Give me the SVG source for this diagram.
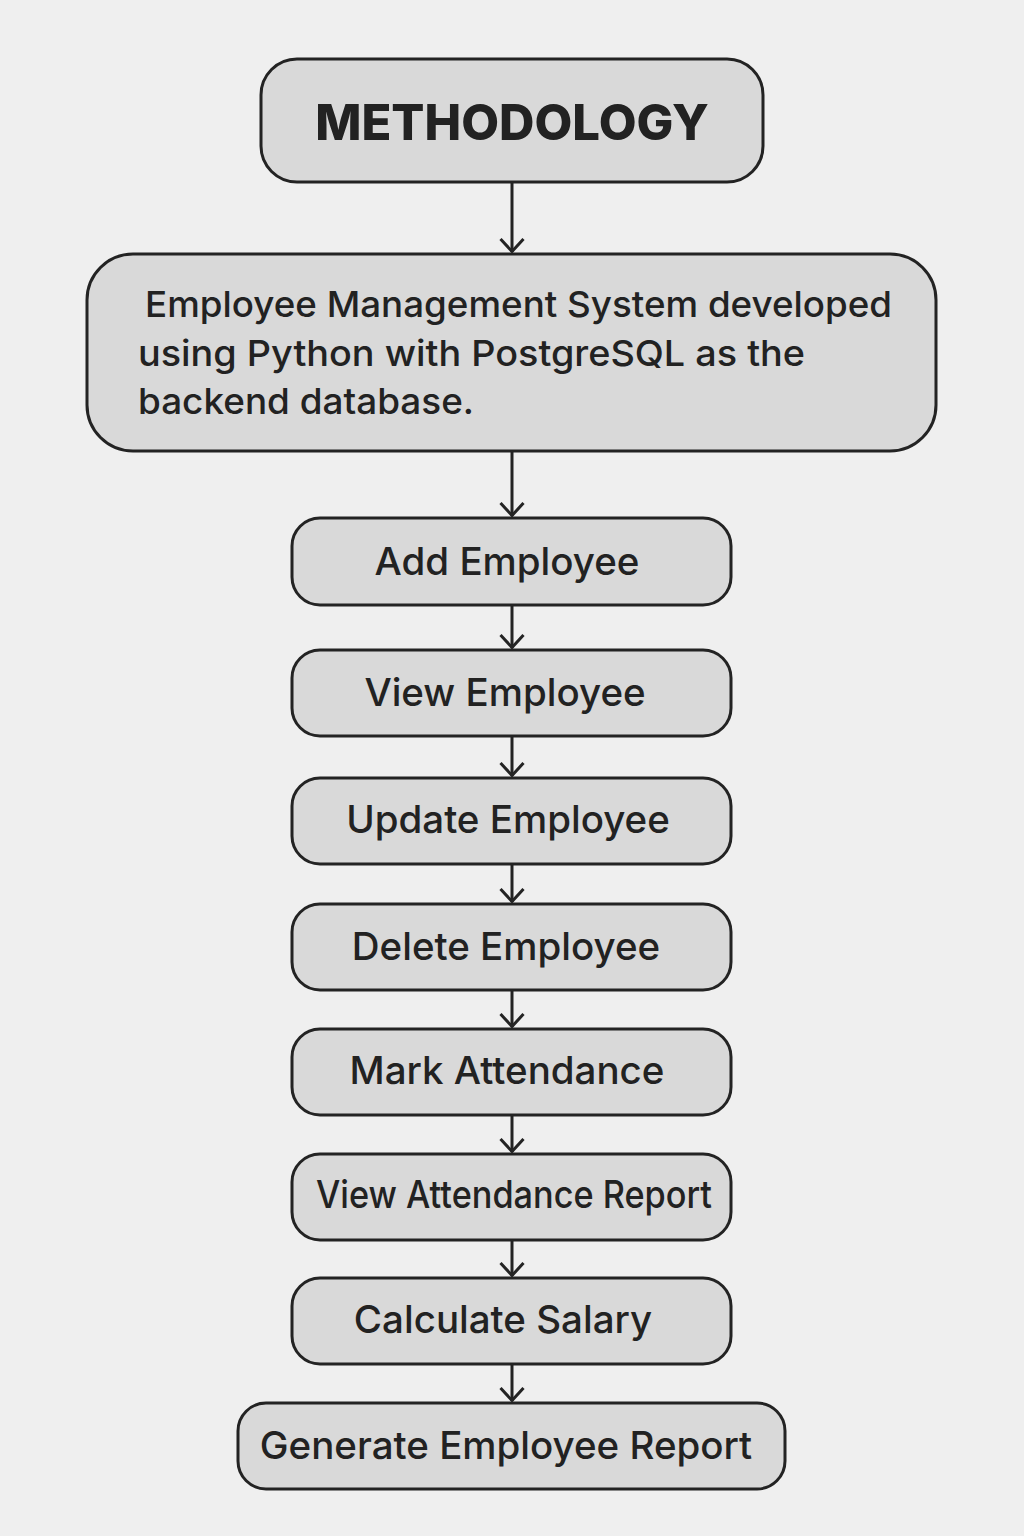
<svg xmlns="http://www.w3.org/2000/svg" width="1024" height="1536" viewBox="0 0 1024 1536">
<defs>
<style>
.box{fill:#d9d9d9;stroke:#232323;stroke-width:3}
.t{font-family:Inter,"Noto Sans","Liberation Sans",sans-serif;font-size:38.5px;font-weight:500;fill:#222;text-anchor:middle}
.d{font-family:Inter,"Noto Sans","Liberation Sans",sans-serif;font-size:36px;font-weight:500;fill:#222}
.h{font-family:Inter,"Noto Sans","Liberation Sans",sans-serif;font-size:49px;font-weight:800;fill:#222;text-anchor:middle}
.c{stroke:#232323;stroke-width:3;fill:none}
</style>
<marker id="ah" viewBox="0 0 16 26" refX="14.5" refY="13" markerWidth="16" markerHeight="26" markerUnits="userSpaceOnUse" orient="auto">
<path d="M1.5,1.5 L14,13 L1.5,24.5" fill="none" stroke="#232323" stroke-width="3"/>
</marker>
</defs>
<rect width="1024" height="1536" fill="#efefef"/>
<g id="connectors">
<line class="c" x1="512" y1="182" x2="512" y2="252" marker-end="url(#ah)"/>
<line class="c" x1="512" y1="451" x2="512" y2="516" marker-end="url(#ah)"/>
<line class="c" x1="512" y1="605" x2="512" y2="648" marker-end="url(#ah)"/>
<line class="c" x1="512" y1="736" x2="512" y2="776" marker-end="url(#ah)"/>
<line class="c" x1="512" y1="864" x2="512" y2="902" marker-end="url(#ah)"/>
<line class="c" x1="512" y1="990" x2="512" y2="1027" marker-end="url(#ah)"/>
<line class="c" x1="512" y1="1115" x2="512" y2="1152" marker-end="url(#ah)"/>
<line class="c" x1="512" y1="1240" x2="512" y2="1276" marker-end="url(#ah)"/>
<line class="c" x1="512" y1="1364" x2="512" y2="1401" marker-end="url(#ah)"/>
</g>
<g id="n-methodology">
<rect class="box" x="261" y="59" width="502" height="123" rx="36"/>
<text class="h" x="512" y="140">METHODOLOGY</text>
</g>
<g id="n-system">
<rect class="box" x="87" y="254" width="849" height="197" rx="46"/>
<text class="d" x="145" y="317" textLength="747" lengthAdjust="spacingAndGlyphs">Employee Management System developed</text>
<text class="d" x="138" y="366" textLength="667" lengthAdjust="spacingAndGlyphs">using Python with PostgreSQL as the</text>
<text class="d" x="138" y="414" textLength="336" lengthAdjust="spacingAndGlyphs">backend database.</text>
</g>
<g id="n-add">
<rect class="box" x="292" y="518" width="439" height="87" rx="28"/>
<text class="t" x="507" y="575">Add Employee</text>
</g>
<g id="n-view">
<rect class="box" x="292" y="650" width="439" height="86" rx="28"/>
<text class="t" x="505" y="706">View Employee</text>
</g>
<g id="n-update">
<rect class="box" x="292" y="778" width="439" height="86" rx="28"/>
<text class="t" x="508" y="833">Update Employee</text>
</g>
<g id="n-delete">
<rect class="box" x="292" y="904" width="439" height="86" rx="28"/>
<text class="t" x="506" y="960">Delete Employee</text>
</g>
<g id="n-mark">
<rect class="box" x="292" y="1029" width="439" height="86" rx="28"/>
<text class="t" x="507" y="1084">Mark Attendance</text>
</g>
<g id="n-report">
<rect class="box" x="292" y="1154" width="439" height="86" rx="28"/>
<text class="t" x="514" y="1208" textLength="396" lengthAdjust="spacingAndGlyphs">View Attendance Report</text>
</g>
<g id="n-salary">
<rect class="box" x="292" y="1278" width="439" height="86" rx="28"/>
<text class="t" x="503" y="1333">Calculate Salary</text>
</g>
<g id="n-generate">
<rect class="box" x="238" y="1403" width="547" height="86" rx="28"/>
<text class="t" x="506" y="1459">Generate Employee Report</text>
</g>
</svg>
